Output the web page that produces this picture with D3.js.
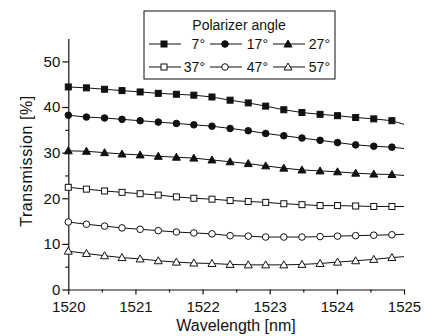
<!DOCTYPE html>
<html>
<head>
<meta charset="utf-8">
<script src="https://cdn.jsdelivr.net/npm/d3@7"></script>
<style>
html,body{margin:0;padding:0;background:#fff;}
svg{display:block;font-family:"Liberation Sans",Arial,Helvetica,sans-serif;}
</style>
</head>
<body>
<svg id="chart" width="424" height="336"></svg>
<script>
const wavelengths = [1520.00,1520.27,1520.54,1520.80,1521.07,1521.34,1521.61,1521.87,1522.14,1522.41,1522.68,1522.94,1523.21,1523.48,1523.75,1524.01,1524.28,1524.55,1524.82];
const lineEndWavelength = 1525;
const angles = ["7°","17°","27°","37°","47°","57°"];
const symbols = ["square","circle","triangle","square","circle","triangle"];
const filled = [true,true,true,false,false,false];
const t7  = [44.4,44.2,43.9,43.6,43.3,43.0,42.8,42.6,42.2,41.5,40.9,40.2,39.4,38.8,38.4,38.1,37.7,37.4,37.0];
const t17 = [38.2,37.8,37.6,37.3,37.0,36.7,36.4,36.1,35.8,35.3,34.8,34.2,33.7,33.2,32.7,32.2,31.7,31.4,31.2];
const t27 = [30.4,30.3,30.0,29.7,29.5,29.2,29.0,28.8,28.4,28.0,27.6,27.1,26.6,26.2,26.0,25.8,25.5,25.3,25.2];
const t37 = [22.4,22.0,21.6,21.3,21.0,20.7,20.3,20.0,19.8,19.5,19.3,19.1,18.8,18.6,18.4,18.4,18.3,18.2,18.2];
const t47 = [14.8,14.3,13.9,13.5,13.2,12.9,12.6,12.4,12.2,11.8,11.7,11.5,11.5,11.5,11.6,11.7,11.8,11.9,12.0];
const t57 = [8.4,7.9,7.4,7.0,6.7,6.3,6.0,5.8,5.7,5.5,5.4,5.4,5.4,5.5,5.7,6.0,6.3,6.6,7.0];
const lineEndValues = [36.2,30.9,25.0,18.2,12.1,7.2];
const series = [t7,t17,t27,t37,t47,t57];
const xTicks = [1520,1521,1522,1523,1524,1525];
const xMinor = [1520.5,1521.5,1522.5,1523.5,1524.5];
const yTicks = [0,10,20,30,40,50];
const yMinor = [5,15,25,35,45];

const svg = d3.select("#chart");
const x = d3.scaleLinear().domain([1520,1525]).range([68.3,404]);
const y = d3.scaleLinear().domain([0,55]).range([289.5,38.6]);

// axes
const gx = svg.append("g").attr("transform",`translate(0,${y(0)})`)
  .call(d3.axisBottom(x).tickValues(xTicks).tickSize(5).tickSizeOuter(0).tickFormat(d3.format("d")));
const gxm = svg.append("g").attr("transform",`translate(0,${y(0)})`)
  .call(d3.axisBottom(x).tickValues(xMinor).tickSize(3).tickSizeOuter(0).tickFormat(""));
gxm.select(".domain").remove();
const gy = svg.append("g").attr("transform",`translate(${x(1520)},0)`)
  .call(d3.axisLeft(y).tickValues(yTicks).tickSize(6).tickSizeOuter(0));
const gym = svg.append("g").attr("transform",`translate(${x(1520)},0)`)
  .call(d3.axisLeft(y).tickValues(yMinor).tickSize(3).tickSizeOuter(0).tickFormat(""));
gym.select(".domain").remove();
svg.selectAll(".domain,.tick line").attr("stroke","#111").attr("stroke-width",1.2);
gx.selectAll("text").attr("font-size",15).attr("fill","#111").attr("dy",0).attr("y",22);
gy.selectAll("text").attr("font-size",15).attr("fill","#111").attr("x",-8);

svg.append("text").attr("x",236).attr("y",331).attr("text-anchor","middle")
  .attr("font-size",16).attr("fill","#111").text("Wavelength [nm]");
svg.append("text").attr("transform","translate(32,161) rotate(-90)").attr("text-anchor","middle")
  .attr("font-size",16).attr("letter-spacing",0.6).attr("fill","#111").text("Transmission [%]");

function drawMarker(g, type, isFilled, cx, cy){
  const fill = isFilled ? "#111" : "#fff";
  if(type==="square"){
    g.append("rect").attr("x",cx-3).attr("y",cy-3).attr("width",6).attr("height",6)
      .attr("fill",fill).attr("stroke","#111").attr("stroke-width",1);
  } else if(type==="circle"){
    g.append("circle").attr("cx",cx).attr("cy",cy).attr("r",3.3)
      .attr("fill",fill).attr("stroke","#111").attr("stroke-width",1);
  } else {
    g.append("path").attr("d",`M${cx},${cy-4}L${cx+4},${cy+3}L${cx-4},${cy+3}Z`)
      .attr("fill",fill).attr("stroke","#111").attr("stroke-width",1);
  }
}

const line = d3.line().x(d=>x(d[0])).y(d=>y(d[1]));
series.forEach((vals,i)=>{
  const pts = wavelengths.map((w,j)=>[w,vals[j]]);
  pts.push([lineEndWavelength,lineEndValues[i]]);
  svg.append("path").attr("d",line(pts)).attr("fill","none").attr("stroke","#111").attr("stroke-width",1);
  const g = svg.append("g");
  wavelengths.forEach((w,j)=>drawMarker(g,symbols[i],filled[i],x(w),y(vals[j])));
});

// legend
const lg = svg.append("g");
lg.append("rect").attr("x",144).attr("y",11).attr("width",191).attr("height",68)
  .attr("fill","#fff").attr("stroke","#111").attr("stroke-width",1);
lg.append("text").attr("x",239).attr("y",30).attr("text-anchor","middle")
  .attr("font-size",14).attr("fill","#111").text("Polarizer angle");
const colStart = [149,210,273];
const labelEnd = [205,268,330];
const rowY = [44,67];
angles.forEach((a,i)=>{
  const c = i%3, r = Math.floor(i/3);
  const cy = rowY[r];
  lg.append("line").attr("x1",colStart[c]).attr("x2",colStart[c]+32).attr("y1",cy).attr("y2",cy)
    .attr("stroke","#111").attr("stroke-width",1);
  drawMarker(lg,symbols[i],filled[i],colStart[c]+15,cy);
  lg.append("text").attr("x",labelEnd[c]).attr("y",cy+5).attr("text-anchor","end")
    .attr("font-size",14).attr("fill","#111").text(a);
});
</script>
</body>
</html>
